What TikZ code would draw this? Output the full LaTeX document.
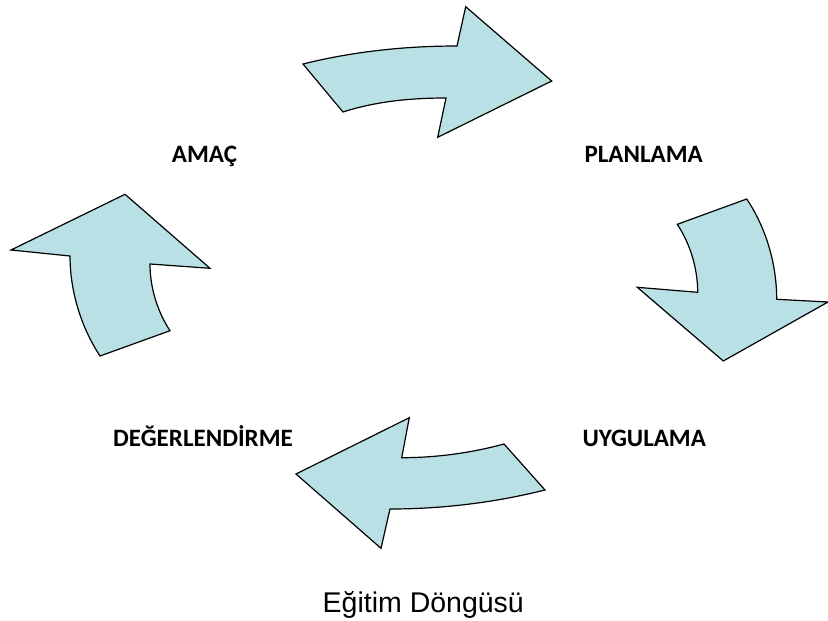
\documentclass[tikz,border=0pt]{standalone}
\usepackage{fontspec}
\newfontfamily\lblfont{Carlito}
\newfontfamily\capfont{Liberation Sans}
\usetikzlibrary{positioning}
\definecolor{aqua}{RGB}{185,224,228}
\tikzset{bent/.style={fill=aqua,draw=black,line width=1.2pt,line join=miter},
stage/.style={inner sep=0pt,anchor=base,font=\lblfont\bfseries\fontsize{25}{25}\selectfont},
title/.style={inner sep=0pt,anchor=base,font=\capfont\fontsize{28.5}{29}\selectfont}}

\begin{document}
\begin{tikzpicture}[x=1pt,y=-1pt]
  \useasboundingbox (0,0) rectangle (828,621);
  % four bent arrows
  \draw [bent] (303,64) -- (343,112) .. controls (376,101.3) and (411.3,98) .. (446,98) -- (437.7,137.3)
    -- (551.7,81) -- (465.7,6.7) -- (457,46) .. controls (405.3,46) and (353.1,51.5) .. cycle;
  \draw [bent] (677.3,224.3) -- (746.7,199) .. controls (766.2,227.9) and (776.7,264.5) .. (776.7,299.3)
    -- (828,302) -- (723.3,361) -- (637.3,287.3) -- (697.7,292.3) .. controls (697.7,268.6) and (690.3,244.1) .. cycle;
  \draw [bent] (504,444) -- (545,490) .. controls (494.6,502.6) and (442,509) .. (390,509) -- (381,548.3)
    -- (296,474) -- (409.3,417.7) -- (401.7,457.7) .. controls (436.1,457.7) and (470.8,453) .. cycle;
  \draw [bent] (100,356) -- (170,330.7) .. controls (157.2,311.3) and (150,287.2) .. (150,264) -- (210,268.3)
    -- (125,194.3) -- (11,250) -- (70,256) .. controls (70,290.8) and (80.9,326.9) .. cycle;
  % labels
  \node (amac) [stage] at (204.5,162.5) {AMAÇ};
  \node (plan) [stage] at (643.7,162.5) {PLANLAMA};
  \node (uyg) [stage] at (644.3,446.5) {UYGULAMA};
  \node (deg) [stage] at (203,446.5) {DEĞERLENDİRME};
  \node (cap) [title] at (423.3,612.7) {Eğitim Döngüsü};
\end{tikzpicture}
\end{document}
